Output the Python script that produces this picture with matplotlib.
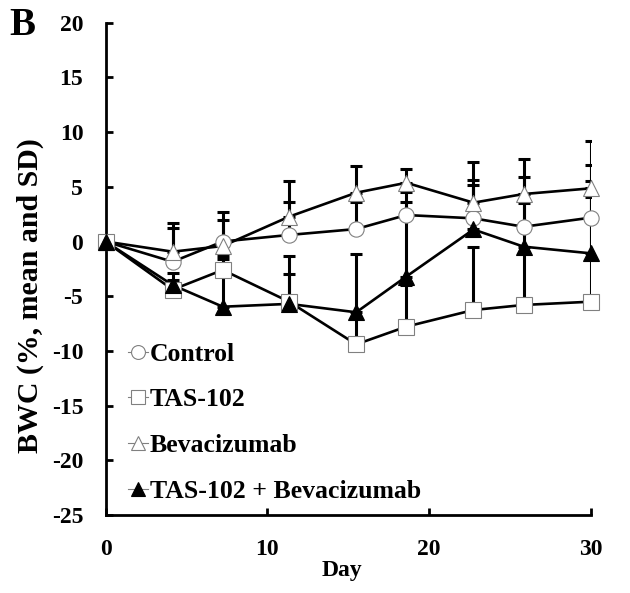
import matplotlib
matplotlib.use("Agg")
import matplotlib.pyplot as plt
from matplotlib.lines import Line2D
import numpy as np

# days
days = [0, 4.15, 7.25, 11.35, 15.5, 18.6, 22.75, 25.85, 30]

control = [0, -1.85, 0.0, 0.6, 1.14, 2.42, 2.12, 1.35, 2.18]
tas102 = [0, -4.4, -2.6, -5.5, -9.4, -7.78, -6.26, -5.8, -5.5]
bev = [0, -0.93, -0.41, 2.27, 4.46, 5.37, 3.55, 4.34, 4.86]
combo = [0, -3.98, -5.96, -5.7, -6.47, -3.2, 1.1, -0.47, -1.08]

# only the upper SD is drawn in the figure
control_sd = [0, 3.05, 2.67, 3.0, 2.44, 2.13, 3.48, 4.52, 4.82]
tas102_sd = [0, 0.9, 1.0, 2.5, 2.4, 3.8, 5.79, 4.8, 9.54]
bev_sd = [0, 2.59, 2.4, 3.26, 2.44, 1.26, 3.69, 3.16, 4.34]
combo_sd = [0, 1.08, 4.66, 4.4, 5.33, 6.84, 4.06, 4.02, 6.61]

labels = ["Control", "TAS-102", "Bevacizumab", "TAS-102 + Bevacizumab"]
yticks = [-25, -20, -15, -10, -5, 0, 5, 10, 15, 20]
xticks = [0, 10, 20, 30]

plt.rcParams['font.family'] = ['Liberation Serif', 'DejaVu Serif']
plt.rcParams['font.weight'] = 'bold'
plt.rcParams['axes.unicode_minus'] = False

fig = plt.figure(figsize=(6.3, 5.93), dpi=100)
ax = fig.add_axes([0.1675, 0.1315, 0.7701, 0.8302])

series = [
    (control, control_sd, 'o', 'white'),
    (tas102, tas102_sd, 's', 'white'),
    (bev, bev_sd, '^', 'white'),
    (combo, combo_sd, '^', 'black'),
]

x = np.array(days)
for vals, sd, mk, fc in series:
    vals = np.array(vals)
    sd = np.array(sd)
    ax.errorbar(x, vals, yerr=[np.zeros_like(sd), sd], fmt='none',
                ecolor='black', elinewidth=2.2, capsize=4.5, capthick=2.2,
                zorder=2)

for vals, sd, mk, fc in series:
    ax.plot(x, vals, color='black', lw=1.9, zorder=3)

for vals, sd, mk, fc in series:
    ec = '#808080' if fc == 'white' else 'black'
    ax.plot(x, vals, linestyle='none', marker=mk, markersize=11,
            markerfacecolor=fc, markeredgecolor=ec, markeredgewidth=0.8,
            zorder=4, clip_on=False)

ax.set_xlim(0, 30)
ax.set_ylim(-25, 20)
ax.set_xticks(xticks)
ax.set_yticks(yticks)
ax.spines['top'].set_visible(False)
ax.spines['right'].set_visible(False)
ax.spines['left'].set_linewidth(2.0)
ax.spines['bottom'].set_linewidth(2.0)
ax.tick_params(axis='both', direction='in', length=5, width=2.0,
               labelsize=17)
ax.tick_params(axis='y', pad=16)
ax.tick_params(axis='x', pad=17)

ax.set_xlabel('Day', fontsize=17, fontweight='bold', va='center')
ax.xaxis.set_label_coords(0.487, -0.113)
ax.set_ylabel('BWC (%, mean and SD)', fontsize=21.5, fontweight='bold',
              va='center')
ax.yaxis.set_label_coords(-0.156, 0.445)

handles = []
for vals, sd, mk, fc in series:
    ec = '#808080' if fc == 'white' else 'black'
    handles.append(Line2D([], [], color='#808080', lw=0.8, marker=mk,
                          markersize=10, markerfacecolor=fc,
                          markeredgecolor=ec, markeredgewidth=0.8))
leg = ax.legend(handles, labels, loc='upper left',
                bbox_to_anchor=(0.203, 0.422), bbox_transform=fig.transFigure,
                frameon=False, fontsize=18.5, handlelength=0.8,
                handletextpad=0.05, labelspacing=0.88, borderpad=0,
                borderaxespad=0)

fig.text(0.014, 0.988, 'B', fontsize=28, fontweight='bold', va='top',
         ha='left')

fig.savefig('out.png', dpi=100)
